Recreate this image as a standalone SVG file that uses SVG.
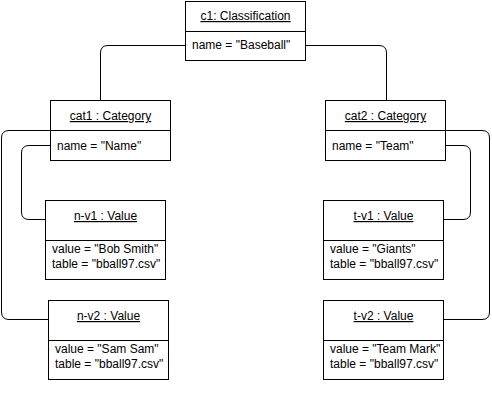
<svg xmlns="http://www.w3.org/2000/svg" width="492" height="401" viewBox="0 0 492 401">
<style>
  .box{fill:#fff;stroke:#000;stroke-width:1}
  .ln{stroke:#000;stroke-width:1;fill:none}
  .t{font-family:"Liberation Sans",Arial,Helvetica,sans-serif;font-size:12px;fill:#000}
  .title{text-anchor:middle;text-decoration:underline}
</style>
<rect width="492" height="401" fill="#fff"/>
<g id="connectors" class="ln">
  <path d="M185.5,45.5 H108 Q100.5,45.5 100.5,53 V100.5"/>
  <path d="M305.5,45.5 H379 Q386.5,45.5 386.5,53 V100.5"/>
  <path d="M50.5,130.5 H9 Q1.5,130.5 1.5,138 V312 Q1.5,319.5 9,319.5 H48.5"/>
  <path d="M50.5,145.5 H29 Q21.5,145.5 21.5,153 V212 Q21.5,219.5 29,219.5 H45.5"/>
  <path d="M445.5,130.5 H482 Q489.5,130.5 489.5,138 V312 Q489.5,319.5 482,319.5 H443.5"/>
  <path d="M445.5,145.5 H463 Q470.5,145.5 470.5,153 V212 Q470.5,219.5 463,219.5 H443.5"/>
</g>
<g id="c1">
  <rect class="box" x="185.5" y="1.5" width="120" height="59"/>
  <line class="ln" x1="185.5" y1="31.5" x2="305.5" y2="31.5"/>
  <text class="t title" x="245.5" y="20">c1: Classification</text>
  <text class="t" x="192" y="49">name = "Baseball"</text>
</g>
<g id="cat1">
  <rect class="box" x="50.5" y="100.5" width="120" height="60"/>
  <line class="ln" x1="50.5" y1="130.5" x2="170.5" y2="130.5"/>
  <text class="t title" x="110.5" y="120">cat1 : Category</text>
  <text class="t" x="57" y="150">name = "Name"</text>
</g>
<g id="cat2">
  <rect class="box" x="325.5" y="100.5" width="120" height="60"/>
  <line class="ln" x1="325.5" y1="130.5" x2="445.5" y2="130.5"/>
  <text class="t title" x="385.5" y="120">cat2 : Category</text>
  <text class="t" x="332" y="150">name = "Team"</text>
</g>
<g id="n-v1">
  <rect class="box" x="45.5" y="200.5" width="120" height="79"/>
  <line class="ln" x1="45.5" y1="240.5" x2="165.5" y2="240.5"/>
  <text class="t title" x="105.5" y="220">n-v1 : Value</text>
  <text class="t" x="52" y="253">value = "Bob Smith"</text>
  <text class="t" x="52" y="268">table = "bball97.csv"</text>
</g>
<g id="n-v2">
  <rect class="box" x="48.5" y="300.5" width="120" height="79"/>
  <line class="ln" x1="48.5" y1="340.5" x2="168.5" y2="340.5"/>
  <text class="t title" x="108.5" y="320">n-v2 : Value</text>
  <text class="t" x="55" y="353">value = "Sam Sam"</text>
  <text class="t" x="55" y="368">table = "bball97.csv"</text>
</g>
<g id="t-v1">
  <rect class="box" x="323.5" y="200.5" width="120" height="79"/>
  <line class="ln" x1="323.5" y1="240.5" x2="443.5" y2="240.5"/>
  <text class="t title" x="383.5" y="220">t-v1 : Value</text>
  <text class="t" x="330" y="253">value = "Giants"</text>
  <text class="t" x="330" y="268">table = "bball97.csv"</text>
</g>
<g id="t-v2">
  <rect class="box" x="323.5" y="300.5" width="120" height="79"/>
  <line class="ln" x1="323.5" y1="340.5" x2="443.5" y2="340.5"/>
  <text class="t title" x="383.5" y="320">t-v2 : Value</text>
  <text class="t" x="330" y="353">value = "Team Mark"</text>
  <text class="t" x="330" y="368">table = "bball97.csv"</text>
</g>
</svg>
